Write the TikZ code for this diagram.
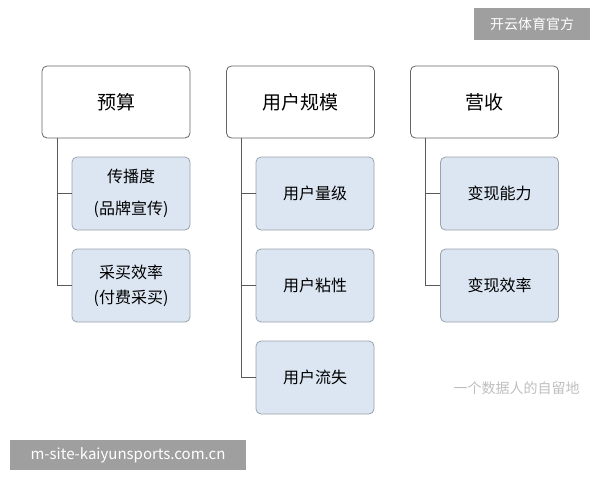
\documentclass[tikz,border=0pt]{standalone}
\usepackage{fontspec}
\setmainfont{Noto Sans CJK SC}
\definecolor{subfill}{HTML}{DCE6F2}
\definecolor{subline}{HTML}{9AA3AD}
\begin{document}
\begin{tikzpicture}[x=1pt,y=-1pt,
  topbox/.style={draw=gray!80!black,fill=white,rounded corners=5pt,minimum width=148pt,minimum height=72pt,font=\fontsize{19}{22}\selectfont,line width=0.8pt},
  subbox/.style={draw=subline,fill=subfill,rounded corners=5pt,minimum width=118pt,minimum height=73pt,font=\fontsize{16}{32}\selectfont,align=center,line width=0.8pt},
  conn/.style={draw=gray!70!black,line width=0.8pt}]
\useasboundingbox (0,0) rectangle (600,480);
\fill[white] (0,0) rectangle (600,480);
\node[topbox] (t1) at (116,102) {预算};
\node[topbox] (t2) at (300.5,102) {用户规模};
\node[topbox] (t3) at (484.5,102) {营收};
\node[subbox] (a1) at (131,193.5) {传播度\\(品牌宣传)};
\node[subbox,font=\fontsize{16}{25}\selectfont] (a2) at (131,285.5) {采买效率\\(付费采买)};
\node[subbox] (b1) at (315,193.5) {用户量级};
\node[subbox] (b2) at (315,285.5) {用户粘性};
\node[subbox] (b3) at (315,377.5) {用户流失};
\node[subbox] (c1) at (499.5,193.5) {变现能力};
\node[subbox] (c2) at (499.5,285.5) {变现效率};
\coordinate (ta) at ([xshift=-59pt]t1.south);
\coordinate (tb) at ([xshift=-59pt]t2.south);
\coordinate (tc) at ([xshift=-59pt]t3.south);
\draw[conn] (ta) |- (a2.west); \draw[conn] (ta|-a1.west) -- (a1.west);
\draw[conn] (tb) |- (b3.west); \draw[conn] (tb|-b1.west) -- (b1.west); \draw[conn] (tb|-b2.west) -- (b2.west);
\draw[conn] (tc) |- (c2.west); \draw[conn] (tc|-c1.west) -- (c1.west);
\node[fill=gray!75,text=white,minimum width=116pt,minimum height=32pt,font=\fontsize{14}{16}\selectfont] (wm) at (532,24) {开云体育官方};
\node[fill=gray!75,text=white,minimum width=236pt,minimum height=30pt,font=\fontsize{15}{17}\selectfont] (url) at (128,455) {m-site-kaiyunsports.com.cn};
\node[text=gray!50,font=\fontsize{14}{16}\selectfont,anchor=west] (wx) at (450,388) {一个数据人的自留地};
\end{tikzpicture}
\end{document}
